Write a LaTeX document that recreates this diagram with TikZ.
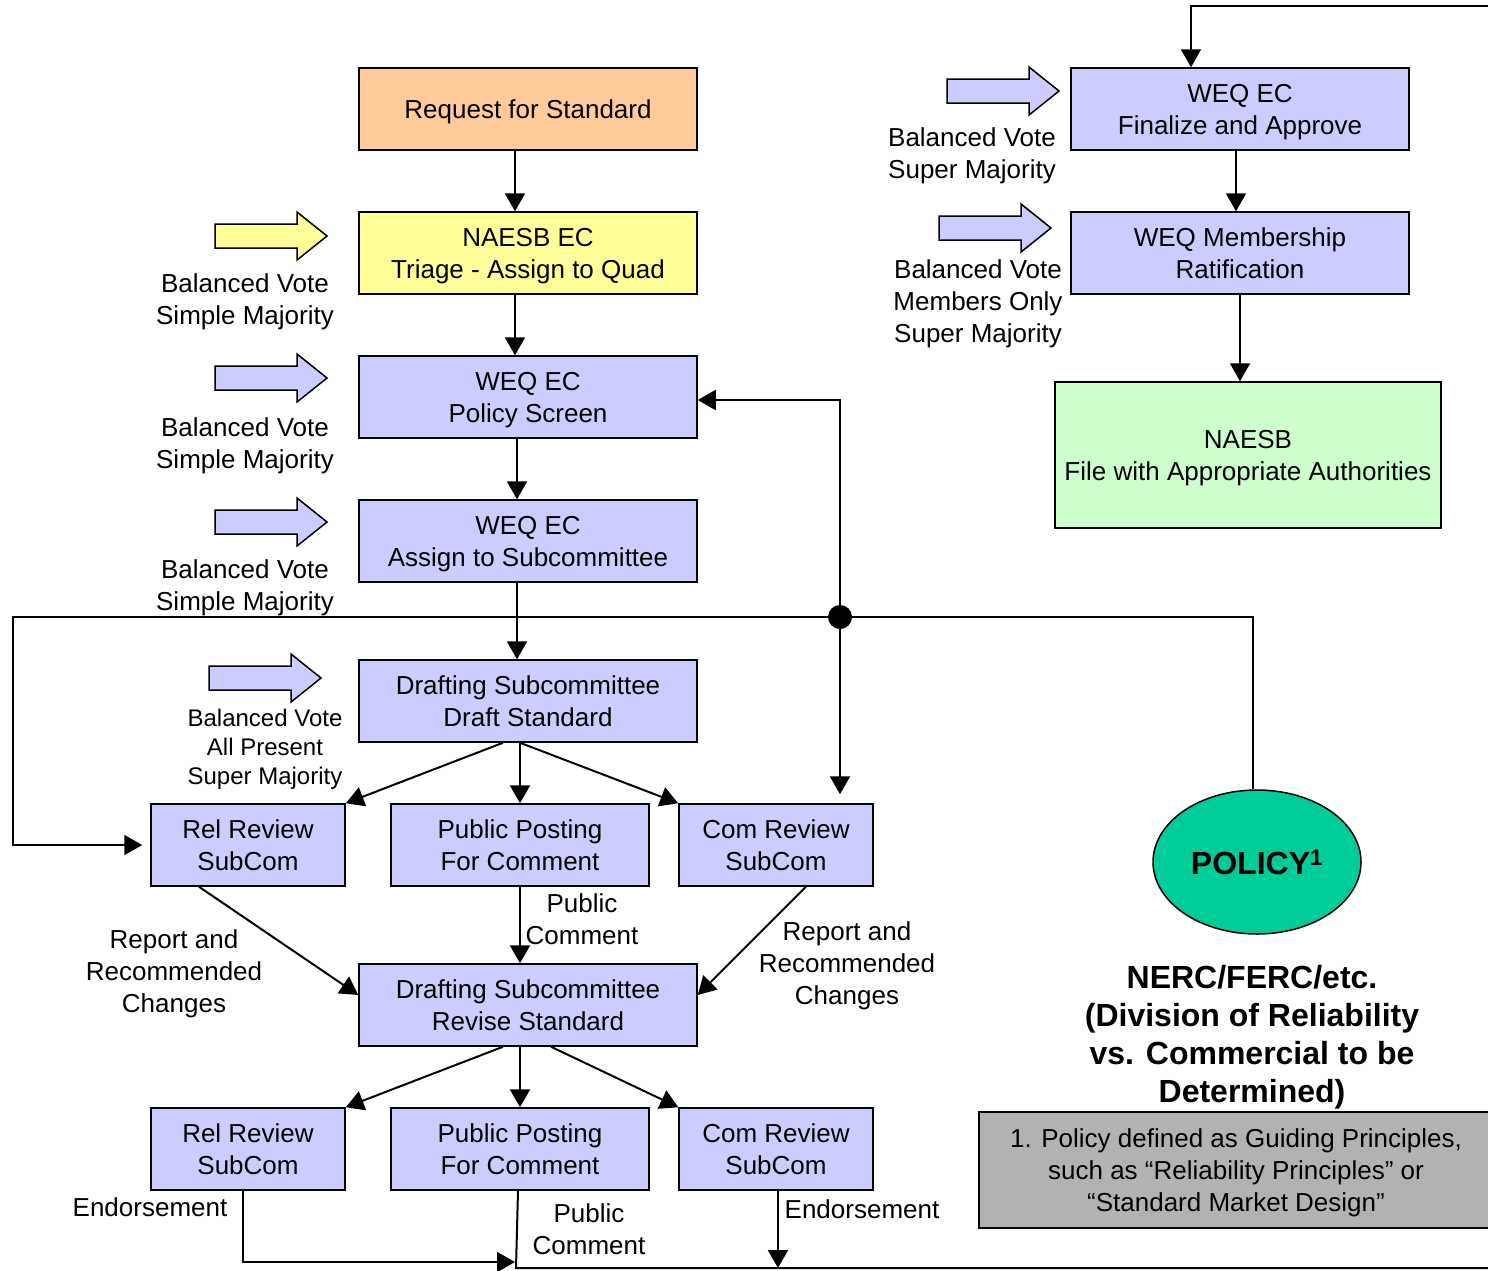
\documentclass[tikz,border=0pt]{standalone}
\usepackage{fontspec}
\setmainfont{Liberation Sans}
\usepackage{tikz}
\usetikzlibrary{positioning}
\usetikzlibrary{calc}
\usetikzlibrary{arrows.meta}
\usetikzlibrary{shapes.geometric}

\definecolor{lavbox}{HTML}{CCCCFF}
\definecolor{orabox}{HTML}{FFCC99}
\definecolor{yelbox}{HTML}{FFFF99}
\definecolor{grnbox}{HTML}{CCFFCC}
\definecolor{polgreen}{HTML}{00CC99}
\definecolor{notegray}{HTML}{B2B2B2}

\tikzset{
	box/.style={draw, line width=1.5pt, fill=lavbox, align=center, inner sep=0pt, text depth=0pt,
		minimum width=338pt, minimum height=82pt, font=\fontsize{26}{32}\selectfont},
	subbox/.style={box, minimum width=194pt},
	postbox/.style={box, minimum width=258pt},
	lbl/.style={align=center, inner sep=0pt, text depth=0pt, font=\fontsize{26}{32}\selectfont},
	smalllbl/.style={align=center, inner sep=0pt, text depth=0pt, font=\fontsize{24}{29}\selectfont},
	flow/.style={line width=2pt, -{Triangle[length=18pt,width=20pt]}},
	wire/.style={line width=2pt},
	votearrow/.pic={
		\draw[line width=1.5pt, pic actions] (0,-12) -- (82,-12) -- (82,-24) -- (112,0)
			-- (82,24) -- (82,12) -- (0,12) -- cycle;
	}
}

\begin{document}
\begin{tikzpicture}[x=1pt, y=-1pt]
			\useasboundingbox (0,0) rectangle (1488,1270);
			% main column
			\node[box, fill=orabox] (req) at (528,109) {Request for Standard};
			\node[box, fill=yelbox] (triage) at (528,253) {NAESB EC\\Triage - Assign to Quad};
			\node[box] (policy) at (528,397) {WEQ EC\\Policy Screen};
			\node[box] (assign) at (528,541) {WEQ EC\\Assign to Subcommittee};
			\node[box] (draft) at (528,701) {Drafting Subcommittee\\Draft Standard};
			\node[subbox] (rel1) at (248,845) {Rel Review\\SubCom};
			\node[postbox] (pub1) at (520,845) {Public Posting\\For Comment};
			\node[subbox] (com1) at (776,845) {Com Review\\SubCom};
			\node[box] (revise) at (528,1005) {Drafting Subcommittee\\Revise Standard};
			\node[subbox] (rel2) at (248,1149) {Rel Review\\SubCom};
			\node[postbox] (pub2) at (520,1149) {Public Posting\\For Comment};
			\node[subbox] (com2) at (776,1149) {Com Review\\SubCom};
			% right column
			\node[box] (fin) at (1240,109) {WEQ EC\\Finalize and Approve};
			\node[box] (rat) at (1240,253) {WEQ Membership\\Ratification};
			\node[box, fill=grnbox, minimum width=386pt, minimum height=146pt] (file) at (1248,455) {NAESB\\File with Appropriate Authorities};
			\node[ellipse, draw, line width=1.5pt, fill=polgreen, minimum width=208pt, minimum height=144pt,
				font=\fontsize{32}{38}\selectfont\bfseries] (pol) at (1257,862) {POLICY\textsuperscript{1}};
			\node[align=center, inner sep=0pt, text depth=0pt, font=\fontsize{32}{38}\selectfont\bfseries] (nerc) at (1252,1034)
				{NERC/FERC/etc.\\(Division of Reliability\\vs. Commercial to be\\Determined)};
			\node[box, fill=notegray, minimum width=514pt, minimum height=116pt] (note) at (1236,1170)
				{1. Policy defined as Guiding Principles,\\such as “Reliability Principles” or\\“Standard Market Design”};
			% vote arrows
			\pic[fill=yelbox] at (215,236) {votearrow};
			\pic[fill=lavbox] at (215,378) {votearrow};
			\pic[fill=lavbox] at (215,522) {votearrow};
			\pic[fill=lavbox] at (209,678) {votearrow};
			\pic[fill=lavbox] at (947,91) {votearrow};
			\pic[fill=lavbox] at (939,228) {votearrow};
			% labels
			\node[lbl] (v1) at (245,299) {Balanced Vote\\Simple Majority};
			\node[lbl] (v2) at (245,443) {Balanced Vote\\Simple Majority};
			\node[lbl] (v3) at (245,585) {Balanced Vote\\Simple Majority};
			\node[smalllbl] (v4) at (265,747) {Balanced Vote\\All Present\\Super Majority};
			\node[lbl] (v5) at (972,153) {Balanced Vote\\Super Majority};
			\node[lbl] (v6) at (978,301) {Balanced Vote\\Members Only\\Super Majority};
			\node[lbl] (rep1) at (174,971) {Report and\\Recommended\\Changes};
			\node[lbl] (rep2) at (847,963) {Report and\\Recommended\\Changes};
			\node[lbl] (pc1) at (582,919) {Public\\Comment};
			\node[lbl] (endo1) at (150,1207) {Endorsement};
			\node[lbl] (pc2) at (589,1229) {Public\\Comment};
			\node[lbl] (endo2) at (862,1209) {Endorsement};
			% main flow
			\draw[flow] ([xshift=-13pt]req.south) -- ([xshift=-13pt]triage.north);
			\draw[flow] ([xshift=-13pt]triage.south) -- ([xshift=-13pt]policy.north);
			\draw[flow] ([xshift=-11pt]policy.south) -- ([xshift=-11pt]assign.north);
			\draw[flow] ([xshift=-11pt]assign.south) -- ([xshift=-11pt]draft.north);
			\draw[flow] ([xshift=-25pt]draft.south) -- (rel1.north east);
			\draw[flow] (draft.south -| pub1.north) -- (pub1.north);
			\draw[flow] (draft.south -| pub1.north) -- (com1.north west);
			\draw[flow] ([xshift=-49pt]rel1.south) -- ([yshift=10pt]revise.west);
			\draw[flow] (pub1.south) -- (pub1.south |- revise.north);
			\draw[flow] ([xshift=30pt]com1.south) -- ([yshift=10pt]revise.east);
			\draw[flow] ([xshift=-25pt]revise.south) -- (rel2.north east);
			\draw[flow] (revise.south -| pub2.north) -- (pub2.north);
			\draw[flow] ([xshift=23pt]revise.south) -- (com2.north west);
			% loop back
			\coordinate (hub) at (840,617);
			\draw[flow] (hub) |- ([yshift=-3pt]policy.east);
			\draw[flow, shorten >=9pt] (hub) -- (hub |- com1.north);
			\draw[flow, shorten >=8pt] (hub) -- ++(-827,0) |- (rel1.west);
			\draw[wire] (hub) -| ([xshift=-4pt]pol.north);
			\fill (hub) circle[radius=12];
			% right column flow
			\coordinate (fromtop) at (1500,6);
			\draw[flow] (fromtop) -| ([xshift=-49pt]fin.north);
			\draw[flow] ([xshift=-4pt]fin.south) -- ([xshift=-4pt]rat.north);
			\draw[flow] (rat.south) -- (rat.south |- file.north);
			% bottom outputs
			\coordinate (endin) at (515,1262);
			\coordinate (out) at (1500,1268);
			\draw[flow] ([xshift=-5pt]rel2.south) |- (endin);
			\draw[wire] ([xshift=-2pt]pub2.south) -- (516,1268) -- (out);
			\draw[flow] ([xshift=2pt]com2.south) -- ([xshift=2pt]com2.south |- out);
		\end{tikzpicture}
\end{document}
